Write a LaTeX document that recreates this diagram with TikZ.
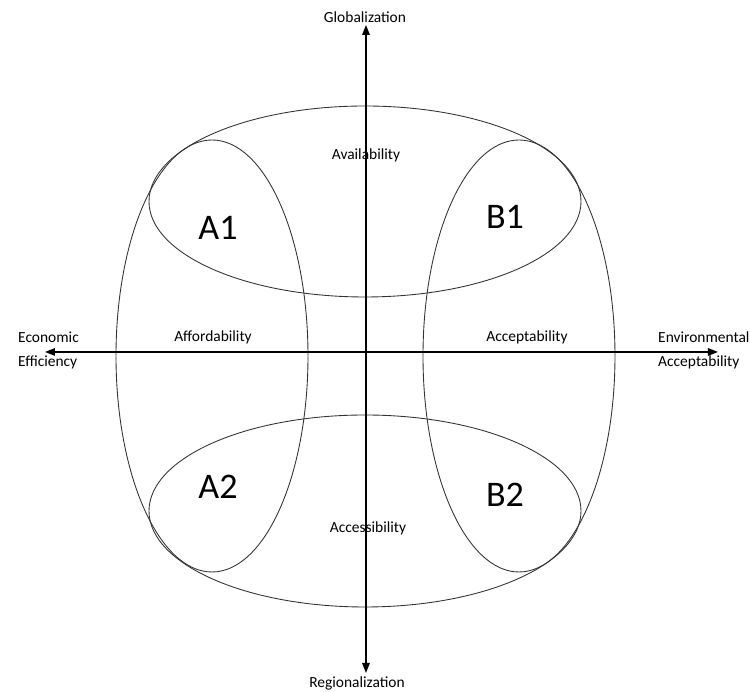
\documentclass[tikz,border=0pt]{standalone}
\usepackage{fontspec}
\setmainfont{Carlito}
\usepackage{tikz}
\usetikzlibrary{arrows.meta}

\begin{document}
\begin{tikzpicture}[lbl/.style={font=\fontsize{8.8}{13.6}\selectfont},
    big/.style={font=\fontsize{20.5}{24}\selectfont},
    axis/.style={draw,line width=0.8pt,-{Triangle[length=0.2cm,width=0.15cm]}},
    ring/.style={draw,line width=0.5pt,black!80}]
    \useasboundingbox (-7.32,-6.80) rectangle (7.68,7.04);
    \coordinate (origin) at (0,0);
    \coordinate (north) at (0.00,6.54);
    \coordinate (south) at (0.00,-6.42);
    \coordinate (west) at (-6.42,0.00);
    \coordinate (east) at (7.04,0.00);

    % the four overlapping rings
    \draw[ring] (-0.02,3.01) ellipse [x radius=4.32cm, y radius=1.91cm];
    \draw[ring] (-0.02,-3.18) ellipse [x radius=4.32cm, y radius=1.92cm];
    \draw[ring] (-3.08,-0.08) ellipse [x radius=1.92cm, y radius=4.32cm];
    \draw[ring] (3.06,-0.08) ellipse [x radius=1.92cm, y radius=4.32cm];

    % axes
    \draw[axis] (origin) -- (north);
    \draw[axis] (origin) -- (south);
    \draw[axis] (origin) -- (west);
    \draw[axis] (origin) -- (east);

    \node[lbl] (glob) at (-0.02,6.70) {Globalization};
    \node[lbl] (reg) at (-0.18,-6.62) {Regionalization};
    \node[lbl,align=left,anchor=west] (econ) at (-7.08,0.04) {Economic\\Efficiency};
    \node[lbl,align=left,anchor=west] (env) at (5.72,0.04) {Environmental\\Acceptability};

    \node[lbl] (avail) at (0.00,3.94) {Availability};
    \node[lbl] (afford) at (-3.06,0.30) {Affordability};
    \node[lbl] (accept) at (3.22,0.30) {Acceptability};
    \node[lbl] (access) at (0.04,-3.52) {Accessibility};

    \node[big] (aone) at (-2.96,2.48) {A1};
    \node[big] (bone) at (2.78,2.70) {B1};
    \node[big] (atwo) at (-2.96,-2.70) {A2};
    \node[big] (btwo) at (2.78,-2.86) {B2};
  \end{tikzpicture}
\end{document}
